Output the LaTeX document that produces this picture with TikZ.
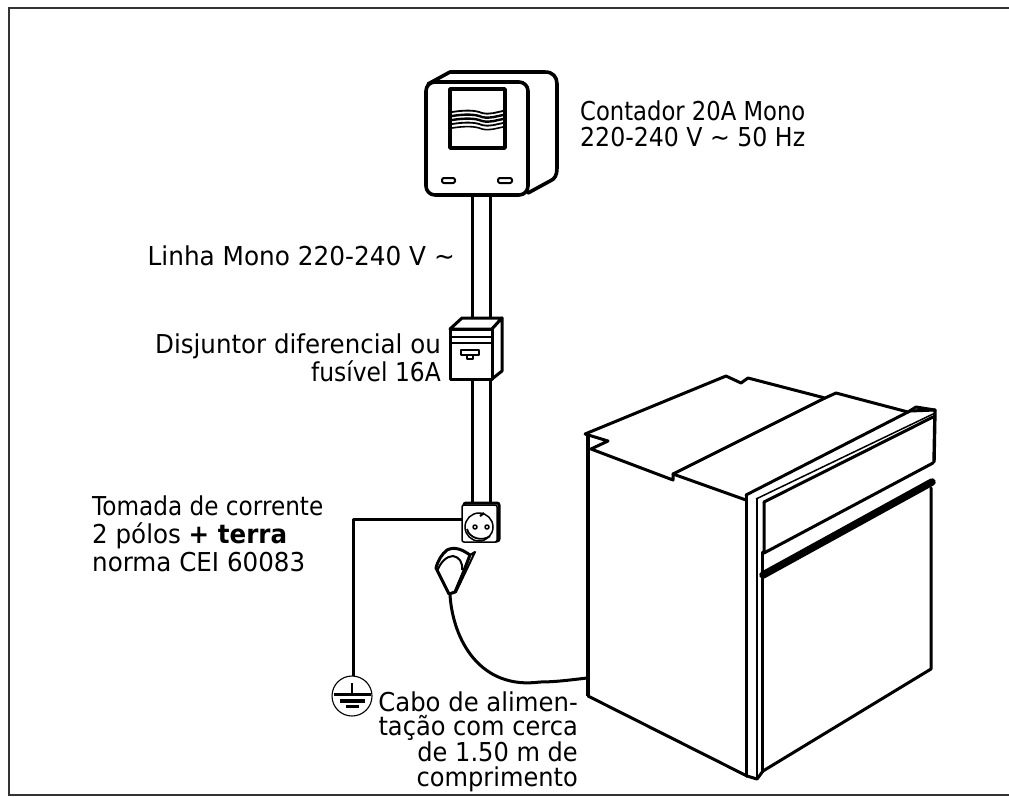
\documentclass[tikz,border=0pt]{standalone}
\usepackage{graphicx}
\usepackage{fontspec}
\setmainfont[FakeStretch=0.9]{DejaVu Sans}
\usetikzlibrary{calc}
\newcommand{\ls}[2]{\scalebox{#1}[1]{#2}}
\tikzset{
  ink/.style={draw=black,line width=3pt,line join=round,line cap=round},
  thick ink/.style={draw=black,line width=3.6pt,line join=round},
  thin ink/.style={draw=black,line width=1.5pt,line join=round},
  label text/.style={inner sep=0pt,font=\fontsize{26}{#1}\selectfont,text=black},
  label text/.default=26
}
\begin{document}
\begin{tikzpicture}[x=1pt,y=-1pt]
\useasboundingbox (0,0) rectangle (1009,796);
\fill[white] (0,0) rectangle (1009,796);
% frame
\draw[draw=black!80,line width=2pt] (1009,8) -- (9,8) -- (9,795) -- (1009,795);
% named anchors
\coordinate (mL) at (472,195); \coordinate (mR) at (490,195);
\coordinate (bTL) at (472,318); \coordinate (bTR) at (490,318);
\coordinate (bBL) at (472,379); \coordinate (bBR) at (490,379);
\coordinate (sTL) at (472,503); \coordinate (sTR) at (490,503);
\coordinate (sW) at (462,519); \coordinate (gN) at (353,676);
\coordinate (plugB) at (450,595); \coordinate (ovenC) at (587,678);
% wires
\draw[ink] (mL) -- (bTL); \draw[ink] (mR) -- (bTR);
\draw[ink] (bBL) -- (sTL); \draw[ink] (bBR) -- (sTR);
\draw[ink,line cap=butt] (sW) -| (gN);
\draw[ink,line cap=butt] (plugB) .. controls (453,640) and (480,690) .. (540,682) .. controls (555,682) and (570,680) .. (ovenC);
% meter
\draw[ink,line width=3.6pt,fill=white] (428,84) -- (450,72) -- (545,72) .. controls (553,72) and (557,77) .. (557,84) -- (557,168) .. controls (557,175) and (555,179) .. (550,181) -- (528,193);
\draw[ink,line width=3.6pt,fill=white,rounded corners=9pt] (426,82) rectangle (528,195);
\draw[ink,line width=3.6pt] (450,89) rectangle (505,148);
\foreach \dy/\w in {0/1.8,4/2.4,8/2.4,12/1.8,16/1.6}{
  \draw[black,line width=\w pt] (452,112+\dy) .. controls (465,110+\dy) and (475,110+\dy) .. (482,113+\dy) .. controls (490,115+\dy) and (497,112+\dy) .. (503,111+\dy);
}
\draw[thin ink,rounded corners=2pt,line width=2pt] (442,178) rectangle (455,183);
\draw[thin ink,rounded corners=2pt,line width=2pt] (498,178) rectangle (512,183);
% breaker
\draw[ink,fill=white] (450,329) -- (462,318) -- (502,318) -- (492,329) -- cycle;
\draw[ink,fill=white] (492,329) -- (502,318) -- (502,371) -- (492,379) -- cycle;
\draw[ink,fill=white] (450,329) rectangle (492,379);
\draw[ink,line width=2.4pt] (450,337) -- (492,337);
\draw[ink,line width=2.4pt] (450,343) -- (492,343);
\draw[ink,line width=2.2pt] (461,350) rectangle (479,355);
\draw[ink,line width=1.8pt] (467,355) rectangle (473,359);
% socket
\draw[ink,fill=white,rounded corners=2pt] (464,503) rectangle (499,541);
\draw[thin ink,fill=white,rounded corners=2pt] (462,505) rectangle (497,542);
\draw[thin ink] (479,527) circle (14);
\draw[thin ink,line width=1.8pt] (467,529) .. controls (469,538) and (482,542) .. (490,536);
\draw[thin ink,line width=2.2pt] (480,516) -- (484,513);
\draw[thin ink] (475,527) circle (2); \draw[thin ink] (487,527) circle (2);
% plug
\draw[ink,fill=white] (449,594) -- (436,568) .. controls (438,560) and (442,554) .. (447,550) .. controls (455,546) and (463,550) .. (470,555) -- (463,573) -- (455,592) -- cycle;
\draw[thin ink,line width=2pt] (437,572) .. controls (440,562) and (447,556) .. (453,556) .. controls (459,557) and (463,562) .. (462,570);
\draw[ink,line width=2pt] (470,555) -- (475,552) -- (456,592) -- (452,593);
% ground
\draw[thin ink,fill=white,line width=1.1pt] (352,696) circle (20);
\draw[black,line width=2.4pt] (352,683) -- (352,694);
\draw[black,line width=3.4pt] (334,694.5) -- (371,694.5);
\draw[black,line width=3.4pt] (340,701) -- (365,701);
\draw[black,line width=3.4pt] (346,706.5) -- (359,706.5);
% oven
\path[fill=white] (585,434) -- (726,376) -- (935,410) -- (933,669) -- (763,770) -- (757,779) -- (588,696) -- cycle;
\draw[ink] (585,434) -- (726,376) -- (741,383) -- (748,378) -- (825,398) -- (836,393) -- (908,412) -- (916,407) -- (935,410);
\draw[ink,line cap=butt] (585,434) -- (608,441) -- (591,449) -- (673,480) -- (673,474) -- (746,500);
\draw[ink] (673,474) -- (825,398);
\draw[thick ink,line cap=butt,line width=4.4pt] (588,434) -- (588,696);
\draw[ink] (588,696) -- (747,776) -- (757,779) -- (763,771) -- (931,669) -- (931,488);
\draw[ink,line width=3.4pt] (935,410) -- (934,462);
\draw[ink] (746,495) -- (910,411) -- (935,410);
\draw[thin ink] (756,499) -- (933,414);
\draw[ink] (764,502) -- (933,417);
\draw[ink] (746,495) -- (746,776);
\draw[ink,line width=2.2pt] (757,499) -- (757,779);
\draw[ink] (764,502) -- (764,553) -- (933,463);
\draw[ink] (762,552) -- (762,771);
\draw[black,line width=7.5pt,line cap=round] (763,575) -- (932,482);
% labels
\node[label text=26,anchor=base west,align=left] (tCont) at (580,146) {\ls{0.97}{Contador 20A Mono}\\\ls{1.01}{220-240 V \textasciitilde{} 50 Hz}};
\node[label text,anchor=base east] (tLin) at (455,265) {\ls{1.058}{Linha Mono 220-240 V \textasciitilde}};
\node[label text=26,anchor=base east,align=right] (tDis) at (441,381) {\ls{1.048}{Disjuntor diferencial ou}\\fusível 16A};
\node[label text=28,anchor=base west,align=left] (tTom) at (92,571) {\ls{0.99}{Tomada de corrente}\\\ls{1.05}{2 pólos \textbf{+ terra}}\\\ls{1.05}{norma CEI 60083}};
\node[label text=24.4,anchor=base east,align=right] (tCab) at (578,786) {\ls{1.04}{Cabo de alimen-}\\\ls{1.03}{tação com cerca}\\\ls{1.03}{de 1.50 m de}\\\ls{1.03}{comprimento}};
\end{tikzpicture}
\end{document}
